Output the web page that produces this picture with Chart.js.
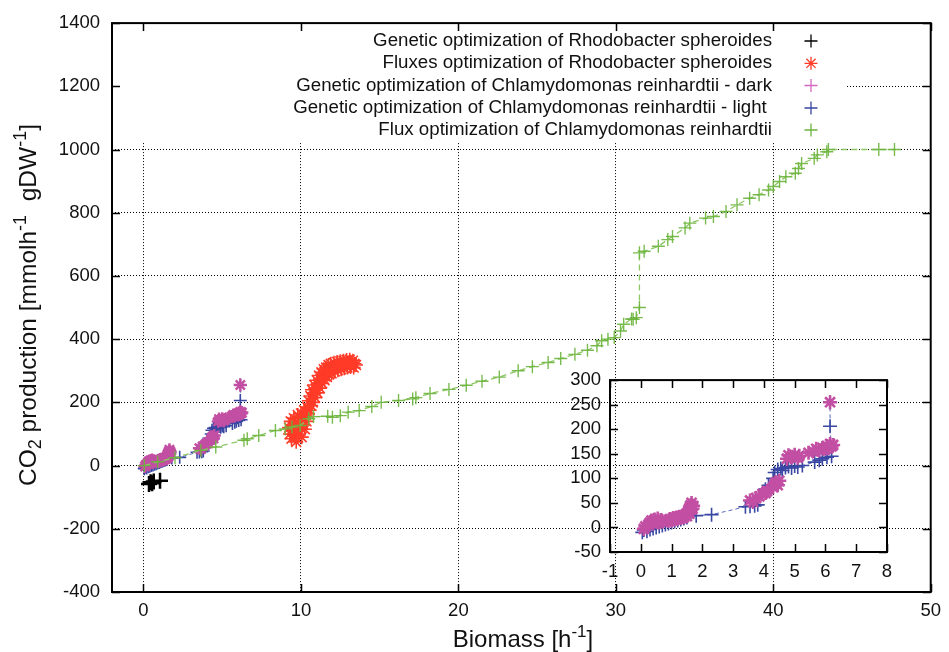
<!DOCTYPE html>
<html><head><meta charset="utf-8">
<script src="https://cdn.jsdelivr.net/npm/chart.js@4.4.1/dist/chart.umd.min.js"></script>
<style>
html,body{margin:0;padding:0;background:#fff;}
#wrap{position:relative;width:949px;height:652px;overflow:hidden;}
#main{position:absolute;left:0;top:0;}
#inset{position:absolute;left:540px;top:360px;}
</style></head><body>
<div id="wrap"><canvas id="main" width="949" height="652"></canvas><canvas id="inset" width="380" height="240"></canvas></div>
<script>
// ---------- data ----------
const mainXTicks = [0, 10, 20, 30, 40, 50];
const mainYTicks = [-400, -200, 0, 200, 400, 600, 800, 1000, 1200, 1400];
const insetXTicks = [-1, 0, 1, 2, 3, 4, 5, 6, 7, 8];
const insetYTicks = [-50, 0, 50, 100, 150, 200, 250, 300];

const seriesNames = [
  "Genetic optimization of Rhodobacter spheroides",
  "Fluxes optimization of Rhodobacter spheroides",
  "Genetic optimization of Chlamydomonas reinhardtii - dark",
  "Genetic optimization of Chlamydomonas reinhardtii - light ",
  "Flux optimization of Chlamydomonas reinhardtii"
];

const rhodoGenX = [0.35, 0.45, 0.55, 0.65, 1.05];
const rhodoGenY = [-58, -53, -56, -50, -48];

const rhodoFluxX = [9.25, 9.3, 9.35, 9.4, 9.45, 9.5, 9.55, 9.6, 9.65, 9.7, 9.75, 9.8, 9.85, 9.9, 9.95, 10.0, 10.05, 10.1, 10.15, 10.2, 10.25, 10.3, 10.35,
  10.4, 10.45, 10.5, 10.55, 10.6, 10.65, 10.7, 10.75, 10.8, 10.85, 10.9, 10.95, 11.0, 11.05, 11.1, 11.15, 11.2, 11.25, 11.3, 11.35, 11.4, 11.45, 11.5,
  11.55, 11.6, 11.65, 11.7, 11.75, 11.8, 11.85, 11.9, 11.95, 12.0, 12.1, 12.15, 12.2, 12.3, 12.35, 12.4, 12.5, 12.55, 12.6, 12.7, 12.75, 12.8, 12.9, 12.95,
  13.0, 13.1, 13.15, 13.2, 13.3, 13.35, 13.4, 13.5];
const rhodoFluxY = [120, 100, 140, 85, 125, 110, 150, 95, 130, 75, 115, 160, 100, 140, 120, 165, 90, 150, 130, 175, 115, 160, 140,
  185, 165, 205, 175, 220, 190, 240, 200, 230, 255, 215, 245, 270, 230, 260, 285, 245, 275, 295, 260, 285, 305, 270,
  295, 310, 280, 300, 318, 288, 305, 322, 292, 312, 325, 298, 315, 328, 302, 318, 330, 305, 320, 332, 308, 322, 334, 310,
  325, 335, 312, 326, 332, 310, 322, 318];

const darkX = [0.1, 0.15, 0.25, 0.3, 0.35, 0.4, 0.45, 0.5, 0.55, 0.6, 0.65, 0.7,
  0.9, 0.95, 1.0, 1.05, 1.1, 1.15, 1.2, 1.25, 1.3, 1.35, 1.4, 1.45, 1.5, 1.52, 1.55, 1.58, 1.6, 1.62, 1.65, 1.7, 1.68,
  3.55, 3.65, 3.75, 3.85, 3.95, 4.05, 4.1, 4.3, 4.35, 4.4, 4.45, 4.5,
  4.75, 4.8, 4.9, 5.0, 5.1, 5.15,
  5.45, 5.6, 5.7, 5.8, 5.9, 6.0, 6.05, 6.1, 6.15, 6.2, 6.25,
  6.15];
const darkY = [-3, 2, 6, 10, 14, 8, 16, 12, 18, 10, 15, 12,
  13, 17, 14, 19, 16, 20, 17, 22, 19, 24, 21, 26, 23, 30, 35, 28, 40, 45, 50, 44, 38,
  55, 52, 60, 63, 68, 70, 74, 82, 88, 92, 86, 95,
  140, 147, 143, 148, 142, 146,
  152, 155, 160, 157, 162, 160, 166, 162, 170, 165, 168,
  255];

const lightX = [0.05, 0.1, 0.2, 0.3, 0.4, 0.5, 0.6, 0.7, 0.8, 0.9, 1.0, 1.1, 1.2, 1.3, 1.4, 1.5, 1.8, 2.3,
  3.4, 3.55, 3.7, 3.8, 4.05, 4.15, 4.3, 4.35, 4.45, 4.55, 4.6, 4.7, 4.8, 4.9, 5.0, 5.1, 5.25,
  5.65, 5.8, 5.9, 6.05, 6.2, 6.15, 6.15];
const lightY = [-10, -5, -8, -4, -2, 0, 2, 4, 6, 8, 10, 12, 14, 16, 18, 20, 24, 26,
  42, 43, 44, 46, 78, 86, 100, 112, 118, 120, 116, 122, 124, 121, 125, 123, 126,
  133, 137, 140, 143, 145, 206, 255];

const chlamyFluxX = [0.05, 0.9, 2.0, 3.64, 4.59, 6.38, 6.59, 7.32, 8.38, 9.0, 9.43, 9.95, 10.5, 10.8, 11.7, 12.0, 12.5,
  13.0, 13.7, 14.5, 15.1, 16.2, 17.1, 17.3, 18.2, 19.4, 20.5, 21.5, 22.6, 23.8, 24.7, 25.7, 26.5, 27.4, 28.2,
  28.8, 29.1, 29.5, 29.9, 30.3, 30.5, 31.0, 31.1, 31.3, 31.5, 31.5, 31.8, 32.7, 33.3, 33.6, 34.4, 34.7, 35.7,
  36.2, 37.0, 37.7, 38.5, 39.1, 39.7, 40.0, 40.4, 40.8, 41.4, 41.6, 41.8, 42.6, 42.8, 43.4, 43.5, 46.7, 47.7];
const chlamyFluxY = [0, 12, 25, 48, 59, 80, 85, 95, 111, 116, 122, 127, 148, 155, 156, 153, 158,
  169, 174, 187, 200, 206, 211, 215, 228, 241, 254, 267, 280, 300, 313, 326, 339, 352, 365,
  379, 395, 400, 405, 426, 447, 464, 463, 468, 500, 673, 678, 694, 715, 725, 752, 767, 783,
  788, 804, 825, 846, 857, 872, 883, 899, 914, 925, 940, 956, 972, 983, 993, 1000, 1000, 1000];

// ---------- helpers ----------
const FONT = "'Liberation Sans', Arial, Helvetica, sans-serif";
const FS = 18.5;
Chart.defaults.font.family = FONT;
Chart.defaults.font.size = FS;
Chart.defaults.color = '#111';

const COL = {
  black: '#000000', red: '#ff3b28', pink: '#c24fa3', pinkLeg: '#d468be',
  blue: '#3947a3', blueLine: '#5a69bb', green: 'rgba(108,180,60,0.9)', greenLine: '#8dc765'
};

function pts(xs, ys) { return xs.map((x, i) => ({x: x, y: ys[i]})); }
const plainLabel = v => String(v);

function drawRich(ctx, parts, x, y, size, align) {
  const subSize = Math.round(size * 0.72);
  let w = 0;
  parts.forEach(p => {
    ctx.font = (p[1] ? subSize : size) + 'px ' + FONT;
    w += ctx.measureText(p[0]).width;
  });
  let cx = align === 'center' ? x - w / 2 : x;
  parts.forEach(p => {
    const s = p[1] ? subSize : size;
    ctx.font = s + 'px ' + FONT;
    let dy = 0;
    if (p[1] === 'sup') dy = -size * 0.42;
    if (p[1] === 'sub') dy = size * 0.22;
    ctx.fillText(p[0], cx, y + dy);
    cx += ctx.measureText(p[0]).width;
  });
}

function drawMarker(ctx, style, x, y, r, color, lw) {
  ctx.save();
  ctx.strokeStyle = color; ctx.lineWidth = lw;
  ctx.beginPath();
  ctx.moveTo(x - r, y); ctx.lineTo(x + r, y);
  ctx.moveTo(x, y - r); ctx.lineTo(x, y + r);
  if (style === 'star') {
    const d = r * 0.7071;
    ctx.moveTo(x - d, y - d); ctx.lineTo(x + d, y + d);
    ctx.moveTo(x - d, y + d); ctx.lineTo(x + d, y - d);
  }
  ctx.stroke();
  ctx.restore();
}

function frameAndTicks(chart, tickLen) {
  const {ctx, chartArea: a, scales} = chart;
  ctx.save();
  ctx.strokeStyle = '#000';
  ctx.lineWidth = 1.5;
  ctx.beginPath();
  scales.x.ticks.forEach(t => {
    const px = Math.round(scales.x.getPixelForValue(t.value)) + 0.5;
    ctx.moveTo(px, a.bottom); ctx.lineTo(px, a.bottom - tickLen);
    ctx.moveTo(px, a.top); ctx.lineTo(px, a.top + tickLen);
  });
  scales.y.ticks.forEach(t => {
    const py = Math.round(scales.y.getPixelForValue(t.value)) + 0.5;
    ctx.moveTo(a.left, py); ctx.lineTo(a.left + tickLen, py);
    ctx.moveTo(a.right, py); ctx.lineTo(a.right - tickLen, py);
  });
  ctx.stroke();
  ctx.lineWidth = 2;
  ctx.strokeRect(a.left, a.top, a.right - a.left, a.bottom - a.top);
  ctx.restore();
}

// ---------- main chart ----------
const KEY_RIGHT = 847, KEY_BOTTOM = 142;

const mainPlugin = {
  id: 'mainDeco',
  beforeDatasetsDraw(chart) {
    const {ctx, chartArea: a} = chart;
    ctx.save();
    ctx.fillStyle = '#fff';
    ctx.fillRect(a.left + 1, a.top + 1, KEY_RIGHT - a.left - 1, KEY_BOTTOM - a.top - 1);
    ctx.restore();
  },
  afterDraw(chart) {
    const ctx = chart.ctx;
    frameAndTicks(chart, 8);
    // legend
    const rows = [41, 63.3, 85.5, 108, 130];
    const mk = [
      ['cross', COL.black], ['star', COL.red], ['cross', COL.pinkLeg], ['cross', COL.blue], ['cross', '#6cb33f']
    ];
    ctx.save();
    ctx.fillStyle = '#111';
    ctx.textAlign = 'right';
    ctx.textBaseline = 'middle';
    ctx.font = '18.7px ' + FONT;
    seriesNames.forEach((n, i) => {
      ctx.fillText(n, 772, rows[i]);
      drawMarker(ctx, mk[i][0], 811, rows[i], 6.5, mk[i][1], 1.3);
    });
    ctx.restore();
    // axis titles
    ctx.save();
    ctx.fillStyle = '#111';
    ctx.textAlign = 'left';
    ctx.textBaseline = 'alphabetic';
    drawRich(ctx, [['Biomass [h'], ['-1', 'sup'], [']']], 523, 647, 24, 'center');
    ctx.translate(36, 305);
    ctx.rotate(-Math.PI / 2);
    drawRich(ctx, [['CO'], ['2', 'sub'], [' production [mmolh'], ['-1', 'sup'], ['  gDW'], ['-1', 'sup'], [']']], 0, 0, 24.5, 'center');
    ctx.restore();
  }
};

new Chart(document.getElementById('main'), {
  type: 'scatter',
  data: {
    datasets: [
      {label: seriesNames[4], data: pts(chlamyFluxX, chlamyFluxY), order: 0, showLine: true,
        borderColor: COL.greenLine, borderWidth: 1.3, borderDash: [6, 4],
        pointStyle: 'cross', pointRadius: 6.5, pointBorderWidth: 1.4, pointBorderColor: COL.green, pointBackgroundColor: COL.green},
      {label: seriesNames[2], data: pts(darkX, darkY), order: 1, showLine: false,
        pointStyle: 'star', pointRadius: 6.5, pointBorderWidth: 2.4, pointBorderColor: COL.pink, pointBackgroundColor: COL.pink},
      {label: seriesNames[3], data: pts(lightX, lightY), order: 2, showLine: true,
        borderColor: COL.blueLine, borderWidth: 1, borderDash: [4, 3],
        pointStyle: 'cross', pointRadius: 6.5, pointBorderWidth: 1.6, pointBorderColor: COL.blue, pointBackgroundColor: COL.blue},
      {label: seriesNames[1], data: pts(rhodoFluxX, rhodoFluxY), order: 3, showLine: false,
        pointStyle: 'star', pointRadius: 7, pointBorderWidth: 1.6, pointBorderColor: COL.red, pointBackgroundColor: COL.red},
      {label: seriesNames[0], data: pts(rhodoGenX, rhodoGenY), order: 4, showLine: false,
        pointStyle: 'cross', pointRadius: 8, pointBorderWidth: 2.5, pointBorderColor: COL.black, pointBackgroundColor: COL.black}
    ]
  },
  options: {
    responsive: false, animation: false, events: [],
    layout: {padding: {top: 21, right: 13, left: 0, bottom: 0}},
    plugins: {legend: {display: false}, tooltip: {enabled: false}},
    scales: {
      x: {
        type: 'linear', min: -2, max: 50,
        afterBuildTicks: s => { s.ticks = mainXTicks.map(v => ({value: v})); },
        afterFit: s => { s.height = 60; },
        grid: {color: '#000', lineWidth: 1, drawTicks: false},
        border: {display: false, dash: [1, 2]},
        ticks: {padding: 8, maxRotation: 0, autoSkip: false, callback: plainLabel}
      },
      y: {
        type: 'linear', min: -400, max: 1400,
        afterBuildTicks: s => { s.ticks = mainYTicks.map(v => ({value: v})); },
        afterFit: s => { s.width = 112; },
        grid: {color: '#000', lineWidth: 1, drawTicks: false},
        border: {display: false, dash: [1, 2]},
        ticks: {padding: 12, autoSkip: false, callback: plainLabel}
      }
    }
  },
  plugins: [mainPlugin]
});

// ---------- inset chart ----------
const insetPlugin = {
  id: 'insetDeco',
  afterDraw(chart) { frameAndTicks(chart, 8); }
};

new Chart(document.getElementById('inset'), {
  type: 'scatter',
  data: {
    datasets: [
      {label: seriesNames[2], data: pts(darkX, darkY), order: 0, showLine: false,
        pointStyle: 'star', pointRadius: 7, pointBorderWidth: 2.6, pointBorderColor: COL.pink, pointBackgroundColor: COL.pink},
      {label: seriesNames[3], data: pts(lightX, lightY), order: 1, showLine: true,
        borderColor: COL.blueLine, borderWidth: 1, borderDash: [4, 3],
        pointStyle: 'cross', pointRadius: 7, pointBorderWidth: 1.6, pointBorderColor: COL.blue, pointBackgroundColor: COL.blue}
    ]
  },
  options: {
    responsive: false, animation: false, events: [],
    layout: {padding: {top: 16, right: 33, left: 0, bottom: 0}},
    plugins: {legend: {display: false}, tooltip: {enabled: false}},
    scales: {
      x: {
        type: 'linear', min: -1, max: 8,
        afterBuildTicks: s => { s.ticks = insetXTicks.map(v => ({value: v})); },
        afterFit: s => { s.height = 48; },
        grid: {display: false, drawTicks: false},
        border: {display: false},
        ticks: {padding: 9, maxRotation: 0, autoSkip: false, callback: plainLabel}
      },
      y: {
        type: 'linear', min: -50, max: 300,
        afterBuildTicks: s => { s.ticks = insetYTicks.map(v => ({value: v})); },
        afterFit: s => { s.width = 70; },
        grid: {display: false, drawTicks: false},
        border: {display: false},
        ticks: {padding: 9, autoSkip: false, callback: plainLabel}
      }
    }
  },
  plugins: [insetPlugin]
});
</script>
</body></html>
